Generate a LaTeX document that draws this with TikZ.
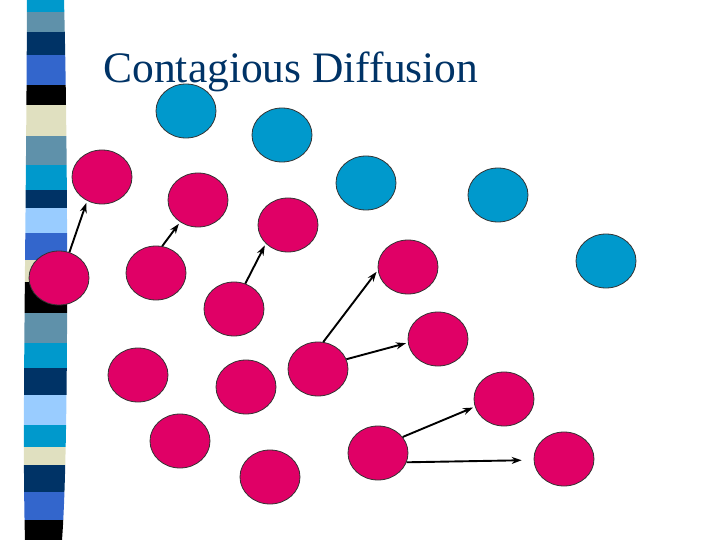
\documentclass[tikz,border=0pt]{standalone}
\usepackage{fontspec}
\setmainfont{Liberation Serif}
\usetikzlibrary{arrows.meta}
\usetikzlibrary{shapes.geometric}

\definecolor{dotred}{RGB}{224,0,102}
\definecolor{dotblue}{RGB}{0,153,204}
\definecolor{stripnavy}{RGB}{0,51,102}
\definecolor{stripsteel}{RGB}{95,145,170}
\definecolor{stripcyan}{RGB}{0,153,204}
\definecolor{stripblue}{RGB}{51,102,204}
\definecolor{striplight}{RGB}{153,204,255}
\definecolor{stripbeige}{RGB}{224,224,192}

\begin{document}
\begin{tikzpicture}[x=1pt,y=-1pt,>={Stealth[length=10pt,width=7pt]},thick]
    \tikzstyle{carrier}=[ellipse,draw=black!80,line width=0.8pt,fill=dotred,minimum width=60pt,minimum height=54pt,inner sep=0pt]
    \tikzstyle{untouched}=[carrier,fill=dotblue]
    \tikzstyle{spread}=[->,line width=1.9pt,shorten >=2pt]

    \useasboundingbox (0,0) rectangle (720,540);

    % side strip
    \begin{scope}
        \clip (27,0) -- (64,0) .. controls (68,150) and (69,450) .. (62,540)
              -- (25,540) .. controls (22,430) and (26,250) .. cycle;
        \foreach \ya/\yb/\col in {0/12/stripcyan, 12/32/stripsteel, 32/55/stripnavy,
            55/85/stripblue, 85/105/black, 105/136/stripbeige, 136/165/stripsteel,
            165/190/stripcyan, 190/208/stripnavy, 208/233/striplight, 233/260/stripblue,
            260/282/stripbeige, 282/313/black, 313/343/stripsteel, 343/368/stripcyan,
            368/395/stripnavy, 395/425/striplight, 425/447/stripcyan, 447/465/stripbeige,
            465/492/stripnavy, 492/520/stripblue, 520/540/black}
            \fill[\col] (0,\ya) rectangle (90,\yb);
    \end{scope}

    % not yet reached
    \node[untouched] (b1) at (186,111) {};
    \node[untouched] (b2) at (282,135) {};
    \node[untouched] (b3) at (366,183) {};
    \node[untouched] (b4) at (498,195) {};
    \node[untouched] (b5) at (606,261) {};

    % reached
    \node[carrier] (r1) at (102,177) {};
    \node[carrier] (r2) at (198,200) {};
    \node[carrier] (r3) at (288,225) {};
    \node[carrier] (r4) at (59,278) {};
    \node[carrier] (r5) at (156,273) {};
    \node[carrier] (r6) at (234,309) {};
    \node[carrier] (r7) at (408,267) {};
    \node[carrier] (r8) at (318,369) {};
    \node[carrier] (r9) at (438,339) {};
    \node[carrier] (r10) at (138,375) {};
    \node[carrier] (r11) at (246,387) {};
    \node[carrier] (r12) at (180,441) {};
    \node[carrier] (r13) at (270,477) {};
    \node[carrier] (r14) at (504,399) {};
    \node[carrier] (r15) at (378,453) {};
    \node[carrier] (r16) at (564,459) {};

    \draw[spread] (r4.68) -- (r1.238);
    \draw[spread] (r5.77) -- (r2.231);
    \draw[spread] (r6.66) -- (r3.220);
    \draw[spread] (r8.79) -- (r7.186);
    \draw[spread] (r8.19) -- (r9.187);
    \draw[spread] (r15.33) -- (r14.195);
    \draw[spread,shorten >=12pt] (r15.342) -- (r16.182);

    \node[anchor=base west,inner sep=0pt,text=stripnavy,font=\fontsize{43.5}{50}\selectfont] (title) at (103,83) {Contagious Diffusion};
\end{tikzpicture}
\end{document}
